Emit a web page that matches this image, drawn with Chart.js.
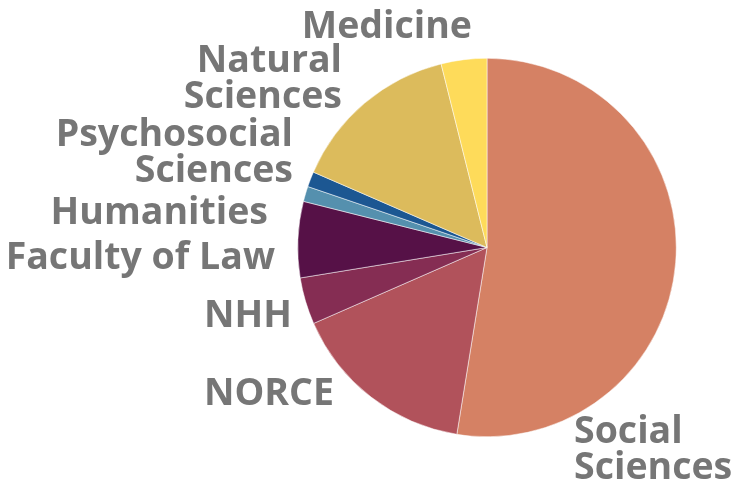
<!DOCTYPE html>
<html>
<head>
<meta charset="utf-8">
<script src="https://cdn.jsdelivr.net/npm/chart.js@4"></script>
<style>
  html, body { margin: 0; padding: 0; background: #fff; }
  #wrap { width: 733px; height: 485px; }
</style>
</head>
<body>
<div id="wrap"><canvas id="pie" width="733" height="485"></canvas></div>
<script>
// share per faculty, percent
const faculties = [
  ['Social', 'Sciences'],
  'NORCE',
  'NHH',
  'Faculty of Law',
  'Humanities',
  ['Psychosocial', 'Sciences'],
  ['Natural', 'Sciences'],
  'Medicine'
];
const shares = [52.6, 15.9, 4.0, 6.5, 1.3, 1.3, 14.6, 3.9];
const colours = ['#d58164', '#b1525b', '#852d53', '#561147', '#5590ae', '#1c5792', '#dcbb5c', '#fedb5a'];

// where each label sits: x, first baseline, alignment
const labelPos = [
  [574, 443, 'left'],
  [204, 405, 'left'],
  [204, 327, 'left'],
  [275, 269, 'right'],
  [268, 224, 'right'],
  [293, 146, 'right'],
  [342, 72, 'right'],
  [472, 38, 'right']
];

const outsideLabels = {
  id: 'outsideLabels',
  afterDraw(chart) {
    const ctx = chart.ctx;
    ctx.save();
    ctx.font = 'bold 37.5px "Open Sans"';
    ctx.fillStyle = '#767676';
    ctx.textBaseline = 'alphabetic';
    faculties.forEach((lab, i) => {
      const lines = Array.isArray(lab) ? lab : [lab];
      const [x, y, align] = labelPos[i];
      ctx.textAlign = align;
      lines.forEach((ln, j) => ctx.fillText(ln, x, y + j * 36));
    });
    ctx.restore();
  }
};

new Chart(document.getElementById('pie'), {
  type: 'pie',
  data: {
    labels: faculties,
    datasets: [{
      data: shares,
      backgroundColor: colours,
      borderColor: '#ffffff',
      borderWidth: 0.5
    }]
  },
  options: {
    responsive: false,
    animation: false,
    layout: { padding: { left: 297, right: 56, top: 58, bottom: 48 } },
    plugins: {
      legend: { display: false },
      tooltip: { enabled: false }
    }
  },
  plugins: [outsideLabels]
});
</script>
</body>
</html>
